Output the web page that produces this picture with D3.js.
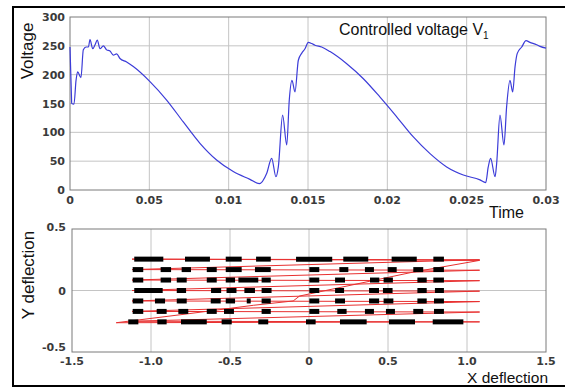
<!DOCTYPE html>
<html><head><meta charset="utf-8">
<script src="https://cdn.jsdelivr.net/npm/d3@7/dist/d3.min.js"></script>
<style>
html,body{margin:0;padding:0;background:#fff;}
svg{display:block;}
.tick-label{font-family:"DejaVu Sans",sans-serif;font-weight:bold;font-size:11px;fill:#3a3a3a;}
.title{font-family:"Liberation Sans",Arial,sans-serif;fill:#111;}
</style></head>
<body>
<script>
// ---------- Top chart data: controlled voltage V1 vs time ----------
const timeData = [0,0.0001,0.000105,0.00025,0.00038,0.00048,0.00069,0.00084,0.00101,0.00116,0.00126,0.00143,0.00158,0.00172,0.00189,0.0021,0.00231,0.00252,0.00273,0.00294,0.00315,0.00357,0.00399,0.00504,0.00609,0.00714,0.00819,0.00924,0.01029,0.01134,0.01193,0.0124,0.01271,0.01298,0.01313,0.0134,0.01366,0.01382,0.01399,0.01418,0.01439,0.0146,0.01481,0.01502,0.01523,0.01544,0.01586,0.01639,0.01744,0.01849,0.01954,0.02059,0.02164,0.02269,0.02374,0.02479,0.02584,0.0262,0.02636,0.02651,0.02679,0.02689,0.0271,0.02735,0.02752,0.02773,0.0279,0.02805,0.02819,0.02847,0.02874,0.02899,0.02941,0.02962,0.03];
const voltData = [248,155,150,149,190,205,195,243,248,248,261,245,252,260,245,250,243,241,234,236,228,222,214,188,156,118,81,52,32,18.5,11,29,55,23,40,130,78,156,190,170,225,237,245,256,254,251,248,240,219,193,161,127,92,63,40,26,17.5,12.8,40,55,23,46,130,78,145,190,170,214,237,248,259,256,252,249,246];
const timeTicks = [0,0.005,0.01,0.015,0.02,0.025,0.03];
const timeTickLabels = ["0","0.05","0.01","0.015","0.02","0.025","0.03"];
const voltTicks = [0,50,100,150,200,250,300];

// ---------- Bottom chart data: deflection raster ----------
const rowY = [0.255,0.17,0.085,0,-0.085,-0.17,-0.255];
// black segments per row: [x0,x1]
const row0 = [[-1.106,-0.922],[-0.785,-0.627],[-0.527,-0.426],[-0.335,-0.242],[-0.082,0.147],[0.217,0.375],[0.523,0.682],[0.787,0.854]];
const row1 = [[-1.116,-1.049],[-0.939,-0.873],[-0.806,-0.747],[-0.647,-0.584],[-0.527,-0.426],[-0.342,-0.242],[0.002,0.065],[0.192,0.249],[0.354,0.411],[0.498,0.555],[0.660,0.723],[0.787,0.854]];
const row2 = [[-1.116,-1.049],[-0.939,-0.873],[-0.837,-0.774],[-0.647,-0.584],[-0.527,-0.468],[-0.447,-0.321],[-0.300,-0.242],[0.002,0.065],[0.165,0.228],[0.386,0.445],[0.472,0.531],[0.686,0.745],[0.787,0.854]];
const row3 = [[-1.106,-0.926],[-0.837,-0.778],[-0.620,-0.556],[-0.522,-0.459],[-0.409,-0.342],[-0.300,-0.237],[0.002,0.065],[0.165,0.222],[0.380,0.443],[0.468,0.529],[0.686,0.745],[0.797,0.854]];
const row4 = [[-1.116,-1.049],[-0.975,-0.911],[-0.837,-0.774],[-0.622,-0.559],[-0.527,-0.468],[-0.394,-0.369],[-0.300,-0.242],[0.002,0.065],[0.165,0.228],[0.380,0.444],[0.472,0.534],[0.686,0.745],[0.791,0.854]];
const row5 = [[-1.116,-1.049],[-0.964,-0.901],[-0.827,-0.764],[-0.647,-0.584],[-0.538,-0.475],[-0.300,-0.242],[0.002,0.065],[0.179,0.238],[0.354,0.411],[0.487,0.544],[0.660,0.723],[0.791,0.854]];
const row6 = [[-1.144,-1.080],[-0.960,-0.901],[-0.810,-0.647],[-0.553,-0.489],[-0.321,-0.258],[-0.019,0.042],[0.196,0.365],[0.506,0.671],[0.783,0.977]];
const rowSegments = [row0,row1,row2,row3,row4,row5,row6];
// red scan path
const scanX = [-1.12,1.08,-1.12,1.08,-1.12,1.08,-1.12,1.08,-1.12,1.08,-1.12,1.08,-1.12,1.08,-1.22,-0.77,-0.35,-0.10,-0.06,0.66,1.08,-1.12];
const scanY = [0.255,0.25,0.17,0.165,0.085,0.08,0,-0.005,-0.085,-0.09,-0.17,-0.175,-0.25,-0.255,-0.262,-0.19,-0.12,-0.085,-0.045,0.15,0.245,0.255];
const defXTicks = [-1.5,-1.0,-0.5,0,0.5,1.0,1.5];
const defXTickLabels = ["-1.5","-1.0","-0.5","0","0.5","1.0","1.5"];
const defYTicks = [-0.5,0,0.5];
const defYTickLabels = ["-0.5","0","0.5"];

const W = 565, H = 387;
const svg = d3.select("body").append("svg").attr("width",W).attr("height",H);
svg.append("rect").attr("width",W).attr("height",H).attr("fill","#fff");

// outer frame (top, left, bottom)
svg.append("path").attr("d","M567,7 H13 V386 H567").attr("fill","none").attr("stroke","#000").attr("stroke-width",2);

const gridColor = "#c4c4c4", boxColor = "#7a7a7a";

// ---------------- Top plot ----------------
const tx = d3.scaleLinear().domain([0,0.03]).range([70,546]);
const ty = d3.scaleLinear().domain([0,300]).range([190,17]);
const topG = svg.append("g");
topG.selectAll(".vg").data(timeTicks.slice(1,-1)).join("line")
  .attr("x1",d=>tx(d)).attr("x2",d=>tx(d)).attr("y1",ty(0)).attr("y2",ty(300))
  .attr("stroke",gridColor).attr("stroke-width",1);
topG.selectAll(".hg").data(voltTicks.slice(1,-1)).join("line")
  .attr("x1",tx(0)).attr("x2",tx(0.03)).attr("y1",d=>ty(d)).attr("y2",d=>ty(d))
  .attr("stroke",gridColor).attr("stroke-width",1);
topG.append("rect").attr("x",tx(0)).attr("y",ty(300)).attr("width",tx(0.03)-tx(0)).attr("height",ty(0)-ty(300))
  .attr("fill","none").attr("stroke",boxColor).attr("stroke-width",1);
topG.selectAll(".xl").data(timeTicks).join("text").attr("class","tick-label")
  .attr("x",d=>tx(d)).attr("y",ty(0)+14).attr("text-anchor","middle")
  .text((d,i)=>timeTickLabels[i]);
topG.selectAll(".yl").data(voltTicks).join("text").attr("class","tick-label")
  .attr("x",tx(0)-5).attr("y",d=>ty(d)+4).attr("text-anchor","end")
  .text(d=>d);
const vline = d3.line().x((d,i)=>tx(timeData[i])).y(d=>ty(d)).curve(d3.curveMonotoneX);
topG.append("path").datum(voltData).attr("d",vline).attr("fill","none")
  .attr("stroke","#3c3cd8").attr("stroke-width",1.2).attr("stroke-linejoin","round");
topG.append("text").attr("class","title").attr("transform","translate(33,51) rotate(-90)")
  .attr("text-anchor","middle").attr("font-size",17).text("Voltage");
topG.append("text").attr("class","title").attr("x",489).attr("y",218).attr("font-size",16)
  .text("Time");
const t1 = topG.append("text").attr("class","title").attr("x",339).attr("y",35).attr("font-size",16);
t1.append("tspan").text("Controlled voltage V");
t1.append("tspan").attr("font-size",10).attr("dy",4).text("1");

// ---------------- Bottom plot ----------------
const bx = d3.scaleLinear().domain([-1.5,1.5]).range([72,546]);
const by = d3.scaleLinear().domain([-0.5,0.5]).range([352,229]);
const bot = svg.append("g");
bot.selectAll(".vg").data(defXTicks.slice(1,-1)).join("line")
  .attr("x1",d=>bx(d)).attr("x2",d=>bx(d)).attr("y1",by(-0.5)).attr("y2",by(0.5))
  .attr("stroke",gridColor).attr("stroke-width",1);
bot.append("line").attr("x1",bx(-1.5)).attr("x2",bx(1.5)).attr("y1",by(0)).attr("y2",by(0))
  .attr("stroke",gridColor).attr("stroke-width",1);
bot.append("rect").attr("x",bx(-1.5)).attr("y",by(0.5)).attr("width",bx(1.5)-bx(-1.5)).attr("height",by(-0.5)-by(0.5))
  .attr("fill","none").attr("stroke",boxColor).attr("stroke-width",1);
bot.selectAll(".xl").data(defXTicks).join("text").attr("class","tick-label")
  .attr("x",d=>bx(d)).attr("y",by(-0.5)+13).attr("text-anchor","middle")
  .text((d,i)=>defXTickLabels[i]);
bot.selectAll(".yl").data(defYTicks).join("text").attr("class","tick-label")
  .attr("x",bx(-1.5)-6).attr("y",d=>by(d)+(d===0.5?2:(d===-0.5?-1:4))).attr("text-anchor","end")
  .text((d,i)=>defYTickLabels[i]);
// red scan lines (drawn under the black bars)
const sline = d3.line().x((d,i)=>bx(scanX[i])).y(d=>by(d));
bot.append("path").datum(scanY).attr("d",sline).attr("fill","none")
  .attr("stroke","#e83030").attr("stroke-width",1).attr("stroke-linejoin","round");
// black bars
rowSegments.forEach((segs,r)=>{
  bot.selectAll(".seg"+r).data(segs).join("line").attr("class","seg"+r)
    .attr("x1",d=>bx(d[0])).attr("x2",d=>bx(d[1]))
    .attr("y1",by(rowY[r])).attr("y2",by(rowY[r]))
    .attr("stroke","#000").attr("stroke-width",5);
});
bot.append("text").attr("class","title").attr("transform","translate(34,275) rotate(-90)")
  .attr("text-anchor","middle").attr("font-size",17).text("Y deflection");
bot.append("text").attr("class","title").attr("x",548).attr("y",383).attr("text-anchor","end")
  .attr("font-size",15.5).text("X deflection");
</script>
</body></html>
